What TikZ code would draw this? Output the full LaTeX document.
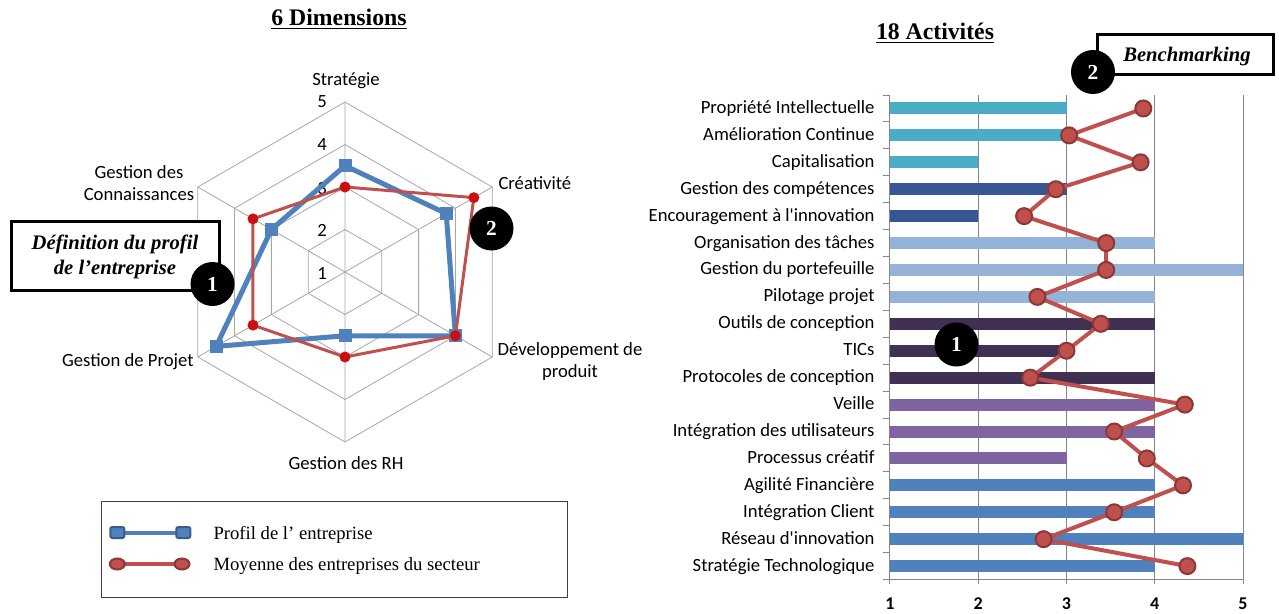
\documentclass[tikz,border=0pt]{standalone}
\usepackage{fontspec}
\setmainfont{Liberation Serif}
\newfontfamily\calib{Carlito}
\usetikzlibrary{shapes.geometric}

\definecolor{profil}{RGB}{79,129,189}
\definecolor{profildark}{RGB}{56,93,138}
\definecolor{moyenne}{RGB}{192,80,77}
\definecolor{moyennedark}{RGB}{140,56,54}
\definecolor{radarred}{RGB}{200,16,16}
\definecolor{gridgray}{RGB}{166,166,166}
\definecolor{axisgray}{RGB}{134,134,134}
\definecolor{barteal}{RGB}{75,172,198}
\definecolor{barnavy}{RGB}{56,85,150}
\definecolor{barlight}{RGB}{149,179,215}
\definecolor{barplum}{RGB}{64,49,82}
\definecolor{barpurple}{RGB}{128,100,162}
\definecolor{barblue}{RGB}{79,129,189}

\tikzset{every picture/.style={line width=0.75pt},
	sanslabel/.style={font=\calib\fontsize{14}{16.5}\selectfont, inner sep=0pt, align=center},
	catlabel/.style={font=\calib\fontsize{14}{16.5}\selectfont, inner sep=0pt, anchor=base east},
	ticklabel/.style={font=\calib\bfseries\fontsize{13.5}{16}\selectfont, inner sep=0pt},
	ringline/.style={draw=gridgray, line width=0.6pt},
	axisline/.style={draw=axisgray, line width=0.75pt},
	profilline/.style={draw=profil, line width=3.75pt, line join=round},
	profilmark/.style={rectangle, fill=profil, minimum size=9.75pt, inner sep=0pt},
	radarline/.style={draw=moyenne, line width=2.25pt, line join=round},
	radarmark/.style={circle, fill=radarred, minimum size=8.25pt, inner sep=0pt},
	barline/.style={draw=moyenne, line width=3pt, line join=round},
	barmark/.style={circle, fill=moyenne, draw=moyennedark, line width=1.5pt, minimum size=12pt, inner sep=0pt},
	badge/.style={circle, fill=black, text=white, minimum size=33pt, inner sep=0pt, font=\bfseries\fontsize{16}{18}\selectfont},
	calloutbox/.style={draw=black, line width=2.25pt, fill=white},
	callouttext/.style={font=\bfseries\itshape\fontsize{15.5}{18.5}\selectfont, inner sep=0pt, align=center},
	titletext/.style={font=\bfseries\fontsize{17.8}{20}\selectfont, inner sep=0pt},
	legsquare/.style={rectangle, rounded corners=1.5pt, fill=profil, draw=profildark, line width=1.5pt, minimum width=10.5pt, minimum height=8.25pt, inner sep=0pt},
	legcircle/.style={ellipse, fill=moyenne, draw=moyennedark, line width=1.5pt, minimum width=11.25pt, minimum height=8.25pt, inner sep=0pt},
	legtext/.style={font=\fontsize{14}{16}\selectfont, inner sep=0pt, anchor=west}
}

\begin{document}
\begin{tikzpicture}[x=0.75pt,y=0.75pt,yscale=-1,xscale=1]
\useasboundingbox (0,0) rectangle (1279,614);

% Titles
\node[titletext] (titledim) at (339,19) {\underline{6 Dimensions}};
\node[titletext] (titleact) at (935,33) {\underline{18 Activités}};

%Shape: Radar rings
\draw[ringline] (345,229.5) -- (381.81,250.75) -- (381.81,293.25) -- (345,314.5) -- (308.19,293.25) -- (308.19,250.75) -- cycle ;
\draw[ringline] (345,187) -- (418.61,229.5) -- (418.61,314.5) -- (345,357) -- (271.39,314.5) -- (271.39,229.5) -- cycle ;
\draw[ringline] (345,144.5) -- (455.42,208.25) -- (455.42,335.75) -- (345,399.5) -- (234.58,335.75) -- (234.58,208.25) -- cycle ;
\draw[ringline] (345,102) -- (492.22,187) -- (492.22,357) -- (345,442) -- (197.78,357) -- (197.78,187) -- cycle ;
%Straight Lines: spokes
\draw[ringline] (345,272) -- (345,102) (345,272) -- (492.22,187) (345,272) -- (492.22,357)
	(345,272) -- (345,442) (345,272) -- (197.78,357) (345,272) -- (197.78,187) ;

% Text Node: radar scale
\node[sanslabel] (sc1) at (322,273) {1};
\node[sanslabel] (sc2) at (322,230) {2};
\node[sanslabel] (sc3) at (322,188.5) {3};
\node[sanslabel] (sc4) at (322,145) {4};
\node[sanslabel] (sc5) at (322,102) {5};

% Text Node: dimensions
\node[sanslabel] (strategie) at (346,81) {Stratégie};
\node[sanslabel, anchor=west] (creativite) at (498,183) {Créativité};
\node[sanslabel] (developpement) at (570,362) {Développement de\\produit};
\node[sanslabel] (rh) at (346,463) {Gestion des RH};
\node[sanslabel, anchor=east] (projet) at (194,362) {Gestion de Projet};
\node[sanslabel] (connaissances) at (139,183) {Gestion des\\Connaissances};

%Shape: Profil de l'entreprise
\draw[profilline] (345,165.75) node[profilmark] (pstrat) {} -- (446.22,213.56) node[profilmark] (pcrea) {}
	-- (455.42,335.75) node[profilmark] (pdev) {} -- (345,335.75) node[profilmark] (prh) {}
	-- (216.18,346.38) node[profilmark] (pproj) {} -- (271.39,229.5) node[profilmark] (pconn) {} -- cycle ;
%Shape: Moyenne des entreprises
\draw[radarline] (345,187) node[radarmark] (mstrat) {} -- (473.82,197.62) node[radarmark] (mcrea) {}
	-- (455.42,335.75) node[radarmark] (mdev) {} -- (345,357) node[radarmark] (mrh) {}
	-- (252.99,325.13) node[radarmark] (mproj) {} -- (252.99,218.87) node[radarmark] (mconn) {} -- cycle ;

%Shape: Callout 1
\draw[calloutbox] (11.5,221.5) rectangle (219,290) ;
\node[callouttext] (defprofil) at (115,257) {Définition du profil\\de l’entreprise};
\node[badge] (badgeone) at (212.5,284) {1};
%Shape: badge 2 (radar)
\node[badge] (badgetwo) at (491.5,228.5) {2};

%Shape: Legend
\draw[draw=black!75, line width=0.75pt] (101.5,501.5) rectangle (567.5,597) ;
\draw[draw=profil, line width=3pt] (117.3,532.5) node[legsquare] (legpa) {} -- (183.3,532.5) node[legsquare] (legpb) {} ;
\draw[draw=moyenne, line width=3pt] (117.3,564) node[legcircle] (legma) {} -- (182,564) node[legcircle] (legmb) {} ;
\node[legtext] (legprofil) at (213,535) {Profil de l’ entreprise};
\node[legtext] (legmoy) at (213,566) {Moyenne des entreprises du secteur};

%Straight Lines: bar chart grid
\draw[axisline] (978.25,95) -- (978.25,584) (1066.5,95) -- (1066.5,584) (1154.75,95) -- (1154.75,584) (1243,95) -- (1243,584) ;
\draw[axisline] (889.5,95) -- (889.5,584) (889.5,579.56) -- (1243,579.56) ;
\draw[axisline] (883,95) -- (889.5,95) (883,121.92) -- (889.5,121.92) (883,148.84) -- (889.5,148.84) (883,175.76) -- (889.5,175.76)
	(883,202.68) -- (889.5,202.68) (883,229.6) -- (889.5,229.6) (883,256.52) -- (889.5,256.52) (883,283.44) -- (889.5,283.44)
	(883,310.36) -- (889.5,310.36) (883,337.28) -- (889.5,337.28) (883,364.2) -- (889.5,364.2) (883,391.12) -- (889.5,391.12)
	(883,418.04) -- (889.5,418.04) (883,444.96) -- (889.5,444.96) (883,471.88) -- (889.5,471.88) (883,498.8) -- (889.5,498.8)
	(883,525.72) -- (889.5,525.72) (883,552.64) -- (889.5,552.64) (883,579.56) -- (889.5,579.56) ;

%Shape: Bars
\fill[barteal] (890,102.46) rectangle (1066.5,114.46) ;
\fill[barteal] (890,129.38) rectangle (1066.5,141.38) ;
\fill[barteal] (890,156.30) rectangle (978.25,168.30) ;
\fill[barnavy] (890,183.22) rectangle (1066.5,195.22) ;
\fill[barnavy] (890,210.14) rectangle (978.25,222.14) ;
\fill[barlight] (890,237.06) rectangle (1154.75,249.06) ;
\fill[barlight] (890,263.98) rectangle (1243,275.98) ;
\fill[barlight] (890,290.90) rectangle (1154.75,302.90) ;
\fill[barplum] (890,317.82) rectangle (1154.75,329.82) ;
\fill[barplum] (890,344.74) rectangle (1066.5,356.74) ;
\fill[barplum] (890,371.66) rectangle (1154.75,383.66) ;
\fill[barpurple] (890,398.58) rectangle (1154.75,410.58) ;
\fill[barpurple] (890,425.50) rectangle (1154.75,437.50) ;
\fill[barpurple] (890,452.42) rectangle (1066.5,464.42) ;
\fill[barblue] (890,479.34) rectangle (1154.75,491.34) ;
\fill[barblue] (890,506.26) rectangle (1154.75,518.26) ;
\fill[barblue] (890,533.18) rectangle (1243,545.18) ;
\fill[barblue] (890,560.10) rectangle (1154.75,572.10) ;

% Text Node: activities
\node[catlabel] (lpropriete) at (875,113.46) {Propriété Intellectuelle};
\node[catlabel] (lamelioration) at (875,140.38) {Amélioration Continue};
\node[catlabel] (lcapital) at (875,167.30) {Capitalisation};
\node[catlabel] (lcompetences) at (875,194.22) {Gestion des compétences};
\node[catlabel] (lencourag) at (875,221.14) {Encouragement à l'innovation};
\node[catlabel] (lorganis) at (875,248.06) {Organisation des tâches};
\node[catlabel] (lportef) at (875,274.98) {Gestion du portefeuille};
\node[catlabel] (lpilotage) at (875,301.90) {Pilotage projet};
\node[catlabel] (loutils) at (875,328.82) {Outils de conception};
\node[catlabel] (ltics) at (875,355.74) {TICs};
\node[catlabel] (lprotocoles) at (875,382.66) {Protocoles de conception};
\node[catlabel] (lveille) at (875,409.58) {Veille};
\node[catlabel] (lintutil) at (875,436.50) {Intégration des utilisateurs};
\node[catlabel] (lprocessus) at (875,463.42) {Processus créatif};
\node[catlabel] (lagilite) at (875,490.34) {Agilité Financière};
\node[catlabel] (lintclient) at (875,517.26) {Intégration Client};
\node[catlabel] (lreseau) at (875,544.18) {Réseau d'innovation};
\node[catlabel] (lstrattech) at (875,571.10) {Stratégie Technologique};

% Text Node: axis values
\node[ticklabel] (ax1) at (890,604) {1};
\node[ticklabel] (ax2) at (978.25,604) {2};
\node[ticklabel] (ax3) at (1066.5,604) {3};
\node[ticklabel] (ax4) at (1154.75,604) {4};
\node[ticklabel] (ax5) at (1243,604) {5};

%Shape: Moyenne per activity
\draw[barline] (1143.3,108.46) node[barmark] (b1) {} -- (1069.1,135.38) node[barmark] (b2) {}
	-- (1140.6,162.30) node[barmark] (b3) {} -- (1055.9,189.22) node[barmark] (b4) {}
	-- (1024.1,216.14) node[barmark] (b5) {} -- (1106.2,243.06) node[barmark] (b6) {}
	-- (1106.2,269.98) node[barmark] (b7) {} -- (1037.4,296.90) node[barmark] (b8) {}
	-- (1100.9,323.82) node[barmark] (b9) {} -- (1066.5,350.74) node[barmark] (b10) {}
	-- (1030.3,377.66) node[barmark] (b11) {} -- (1184.8,404.58) node[barmark] (b12) {}
	-- (1114.2,431.50) node[barmark] (b13) {} -- (1146.8,458.42) node[barmark] (b14) {}
	-- (1183,485.34) node[barmark] (b15) {} -- (1114.2,512.26) node[barmark] (b16) {}
	-- (1043.6,539.18) node[barmark] (b17) {} -- (1187.4,566.10) node[barmark] (b18) {} ;

%Shape: badge 1 (activities)
\node[badge] (badgeact) at (956.5,344.5) {1};
%Shape: Callout 2
\draw[calloutbox] (1097.5,34) rectangle (1273.5,74.5) ;
\node[callouttext] (bench) at (1187,57) {Benchmarking};
\node[badge] (badgebench) at (1093,72) {2};

\end{tikzpicture}
\end{document}
